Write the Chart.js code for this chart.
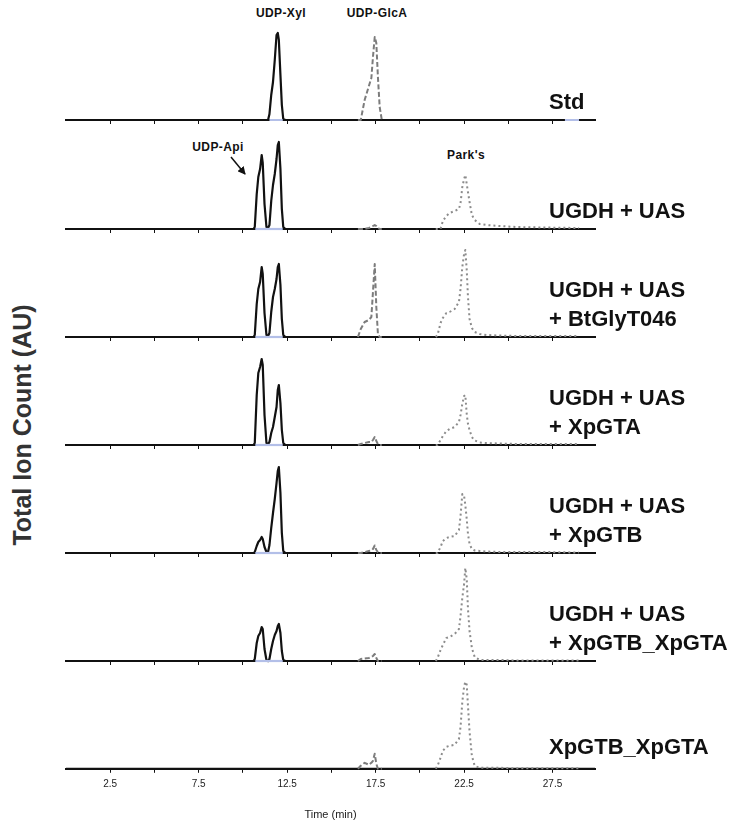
<!DOCTYPE html>
<html>
<head>
<meta charset="utf-8">
<title>Total ion chromatograms</title>
<script src="https://cdn.jsdelivr.net/npm/chart.js@4.4.1/dist/chart.umd.min.js"></script>
<style>
  html, body { margin: 0; padding: 0; background: #fff; }
  #fig { position: relative; width: 729px; height: 820px; overflow: hidden;
         font-family: 'Liberation Sans', Arial, Helvetica, sans-serif; }
  #fig canvas { position: absolute; left: 0; }
  .lbl { position: absolute; left: 549px; font-weight: bold; font-size: 22px;
         line-height: 28px; color: #111; white-space: nowrap; }
  .ann { position: absolute; font-weight: bold; font-size: 12px; line-height: 14px; color: #111;
         transform: translateX(-50%); white-space: nowrap; letter-spacing: 0.4px; }
  #ytitle { position: absolute; left: 22px; top: 425px; font-weight: bold; font-size: 25px;
            color: #333; white-space: nowrap; transform: translate(-50%, -50%) rotate(-90deg); }
  #arrow { position: absolute; left: 0; top: 0; }
</style>
</head>
<body>
<div id="fig">
  <div id="ytitle">Total Ion Count (AU)</div>
  <div class="ann" style="left:281px; top:6px;">UDP-Xyl</div>
  <div class="ann" style="left:377px; top:6px;">UDP-GlcA</div>
  <div class="ann" style="left:218px; top:140px;">UDP-Api</div>
  <div class="ann" style="left:466px; top:148px;">Park's</div>
  <svg id="arrow" width="729" height="820">
    <defs>
      <marker id="head" markerWidth="8" markerHeight="8" refX="7" refY="4" orient="auto" markerUnits="userSpaceOnUse">
        <path d="M0,0 L8,4 L0,8 z" fill="#111"/>
      </marker>
    </defs>
    <line x1="231" y1="157" x2="245" y2="174" stroke="#111" stroke-width="1.5" marker-end="url(#head)"/>
  </svg>
</div>
<script>
// Retention time grids (min) for the traced ions
const xylApiTime = [0, 10.6, 10.67, 10.78, 10.87, 10.97, 11.06, 11.12, 11.22, 11.33, 11.42, 11.5,
                    11.6, 11.7, 11.8, 11.9, 11.97, 12.03, 12.12, 12.2, 12.28, 12.4, 29.9];
const glcaTime   = [16.5, 16.66, 16.88, 17.12, 17.26, 17.35, 17.45, 17.54, 17.63, 17.73, 17.85];
const parksTime  = [20.9, 21.0, 21.17, 21.3, 21.5, 21.68, 21.97, 22.21, 22.3, 22.4, 22.5, 22.57,
                    22.65, 22.72, 22.81, 22.94, 23.1, 23.38, 23.76, 24.5, 25.45, 27.0, 29.0];
const otherTime  = [10.7, 11.5, 12.25, 12.3, 28.2, 29.0];

// Sample names, one entry per stacked trace (top to bottom)
const panelLabels = [
  ['Std'],
  ['UGDH + UAS'],
  ['UGDH + UAS', '+ BtGlyT046'],
  ['UGDH + UAS', '+ XpGTA'],
  ['UGDH + UAS', '+ XpGTB'],
  ['UGDH + UAS', '+ XpGTB_XpGTA'],
  ['XpGTB_XpGTA']
];

// UDP-Api (~11.1 min) and UDP-Xyl (~12.0 min) signal, one row per sample
const xylApiSignal = [
  [0, 0, 0, 0, 0, 0, 0, 0, 0, 0, 0, 6, 25, 38, 60, 85, 87, 80, 45, 15, 1, 0, 0],
  [0, 0, 2, 35, 52, 60, 74, 66, 25, 2, 1, 4, 28, 44, 55, 70, 84, 87, 60, 20, 2, 0, 0],
  [0, 0, 2, 33, 48, 55, 70, 63, 24, 2, 1, 4, 25, 40, 48, 58, 70, 73, 52, 18, 2, 0, 0],
  [0, 0, 2, 50, 72, 78, 86, 80, 30, 2, 1, 3, 12, 18, 28, 38, 55, 60, 42, 15, 2, 0, 0],
  [0, 0, 1, 7, 11, 13, 16, 14, 6, 1, 1, 8, 25, 40, 54, 70, 82, 86, 60, 20, 2, 0, 0],
  [0, 0, 2, 18, 25, 28, 34, 32, 12, 1, 0, 2, 12, 20, 26, 30, 35, 37, 28, 10, 1, 0, 0],
  [0, 0, 0, 0, 0, 0, 0, 0, 0, 0, 0, 0, 0, 0, 0, 0, 0, 0, 0, 0, 0, 0, 0]
];

// UDP-GlcA (~17.5 min) signal
const glcaSignal = [
  [0, 0, 20, 34, 42, 63, 83, 77, 43, 13, 0],
  [0, 0, 0, 1, 2, 3, 4, 3, 1, 0, 0],
  [0, 8, 15, 17, 20, 45, 73, 30, 3, 0, 0],
  [0, 1, 2, 3, 3, 5, 8, 4, 1, 0, 0],
  [0, 0, 1, 2, 2.5, 4, 7.5, 3, 1, 0, 0],
  [0, 2, 2.5, 3, 4, 5, 7, 3, 0, 0, 0],
  [0, 3, 6, 4, 6, 8, 15, 5, 0, 0, 0]
];

// Park's nucleotide (~22.6 min) signal; not traced for the standard
const parksSignal = [
  [],
  [0, 0, 0, 8, 13, 16, 18, 20, 26, 42, 50, 54, 45, 37, 27, 14, 9, 5, 4, 3, 2, 1.5, 1],
  [0, 2, 14, 19, 24, 25, 28, 35, 48, 70, 83, 87, 67, 40, 18, 9, 5, 3, 2, 1.5, 1, 1, 1],
  [0, 0, 5, 9, 14, 16, 18, 23, 30, 41, 49, 50, 31, 21, 15, 8, 4.5, 2.5, 2, 1.5, 1, 1, 1],
  [0, 0, 6, 12, 15, 16, 17, 23, 37, 59, 57, 48, 34, 19, 9, 4, 2.5, 2, 1.5, 1, 1, 1, 0.5],
  [0, 3, 11, 16, 23, 24, 27, 32, 45, 63, 77, 93, 82, 52, 30, 13, 4, 1, 1, 1, 0.5, 0.5, 0.5],
  [0, 3, 11, 18, 22, 23, 24, 30, 42, 67, 82, 87, 84, 63, 37, 13, 3, 1, 1, 1, 0.5, 0.5, 0.5]
];

// Remaining monitored ion: flat at zero (null = not shown in that window)
const otherSignal = [
  [null, 0, 0, null, 0, 0],
  [0, 0, 0, null, null, null],
  [0, 0, 0, null, null, null],
  [0, 0, 0, null, null, null],
  [0, 0, 0, null, null, null],
  [0, 0, 0, null, null, null],
  [null, null, null, null, null, null]
];

// Time axis ticks: every 2.5 min, labelled at the odd multiples
const tickValues = [2.5, 5, 7.5, 10, 12.5, 15, 17.5, 20, 22.5, 25, 27.5];
const tickLabels = ['2.5', '', '7.5', '', '12.5', '', '17.5', '', '22.5', '', '27.5'];

// Layout: pixel row of each trace's zero line
const panelBaselines = [120, 229, 337, 445, 553, 661, 769];
const labelOffsets = [-18, -18, -18, -18, -18, -18, -22];

const fig = document.getElementById('fig');
const narrowFont = "'Liberation Sans Narrow', 'Arial Narrow', 'Liberation Sans', Arial, sans-serif";

function toPoints(times, values) {
  return values.map((v, k) => ({ x: times[k], y: v }));
}

function makePanel(i) {
  const isLast = i === panelLabels.length - 1;
  const h = isLast ? 170 : 112;
  const canvas = document.createElement('canvas');
  canvas.width = 729; canvas.height = h;
  canvas.style.width = '729px'; canvas.style.height = h + 'px';
  fig.appendChild(canvas);

  const chart = new Chart(canvas, {
    type: 'line',
    data: {
      datasets: [
        { label: 'other', data: toPoints(otherTime, otherSignal[i]),
          borderColor: '#b3bfe8', borderWidth: 2.2, spanGaps: false, clip: false },
        { label: "Park's", data: toPoints(parksTime, parksSignal[i]),
          borderColor: '#8c8c8c', borderWidth: 2, borderDash: [2, 3], clip: false },
        { label: 'UDP-GlcA', data: toPoints(glcaTime, glcaSignal[i]),
          borderColor: '#7c7c7c', borderWidth: 2, borderDash: [5, 2.5], clip: false },
        { label: 'UDP-Xyl / UDP-Api', data: toPoints(xylApiTime, xylApiSignal[i]),
          borderColor: '#111', borderWidth: 2.2, clip: false }
      ]
    },
    options: {
      responsive: false,
      animation: false,
      devicePixelRatio: 1,
      layout: { padding: { left: 66, right: 134, top: 6, bottom: 0 } },
      plugins: { legend: { display: false }, tooltip: { enabled: false } },
      elements: { point: { radius: 0 }, line: { tension: 0, borderJoinStyle: 'round' } },
      scales: {
        x: {
          type: 'linear', min: 0, max: 29.9,
          afterBuildTicks: s => { s.ticks = tickValues.map(v => ({ value: v })); },
          grid: { drawOnChartArea: false, drawTicks: true, tickLength: 4, tickColor: '#111', tickWidth: 1 },
          border: { display: true, color: '#111', width: 2 },
          ticks: {
            display: isLast, autoSkip: false, maxRotation: 0, padding: 5, color: '#222',
            font: { family: narrowFont, size: 10 },
            callback: v => tickLabels[tickValues.indexOf(v)]
          },
          title: {
            display: isLast, text: 'Time (min)', color: '#222',
            font: { family: narrowFont, size: 11 }, padding: { top: 14, bottom: 0 }
          }
        },
        y: { display: false, min: 0, max: 100 }
      }
    }
  });

  // one signal unit per pixel of height
  chart.options.scales.y.max = chart.chartArea.bottom - chart.chartArea.top;
  chart.update('none');
  canvas.style.top = (panelBaselines[i] - chart.chartArea.bottom) + 'px';

  const lines = panelLabels[i];
  lines.forEach((txt, k) => {
    const d = document.createElement('div');
    d.className = 'lbl';
    d.textContent = txt;
    const centre = panelBaselines[i] + labelOffsets[i] - (lines.length - 1 - k) * 29;
    d.style.top = (centre - 14) + 'px';
    fig.appendChild(d);
  });
}

panelLabels.forEach((_, i) => makePanel(i));
</script>
</body>
</html>
